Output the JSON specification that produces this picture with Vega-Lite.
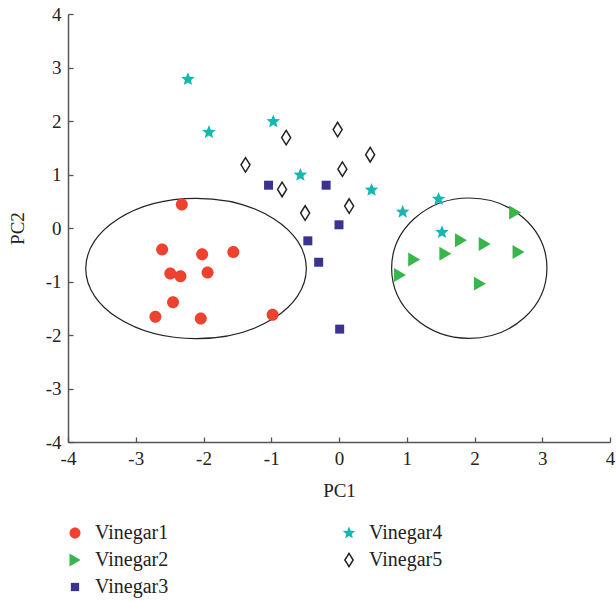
{
  "$schema": "https://vega.github.io/schema/vega-lite/v6.json",
  "autosize": {"type": "none"},
  "width": 542,
  "height": 428,
  "padding": {"left": 68, "top": 14, "right": 6, "bottom": 159},
  "background": "white",
  "config": {
    "view": {"stroke": null},
    "axis": {
      "grid": false,
      "domainColor": "#555555",
      "domainWidth": 1.5,
      "tickColor": "#555555",
      "tickWidth": 1.3,
      "tickSize": -5,
      "labelFont": "Liberation Serif",
      "labelFontSize": 19,
      "labelColor": "#222222",
      "labelFlush": false,
      "labelOverlap": false,
      "labelBound": false,
      "labelExpr": "'' + datum.value",
      "titleFont": "Liberation Serif",
      "titleFontSize": 19,
      "titleFontWeight": "normal",
      "titleColor": "#222222"
    },
    "legend": {
      "labelFont": "Liberation Serif",
      "labelFontSize": 20,
      "labelColor": "#222222"
    }
  },
  "layer": [
    {
      "data": {"values": [{"cx": -2.11, "cy": -0.757}]},
      "mark": {
        "type": "point",
        "shape": "M -1 0 A 1 0.636 0 1 1 1 0 A 1 0.636 0 1 1 -1 0 Z",
        "size": 48664,
        "filled": false,
        "stroke": "#222222",
        "strokeWidth": 1.2,
        "opacity": 1
      },
      "encoding": {
        "x": {"field": "cx", "type": "quantitative"},
        "y": {"field": "cy", "type": "quantitative"}
      }
    },
    {
      "data": {"values": [{"cx": 1.923, "cy": -0.751}]},
      "mark": {
        "type": "point",
        "shape": "M -1 0 A 1 0.904 0 1 1 1 0 A 1 0.904 0 1 1 -1 0 Z",
        "size": 24118,
        "filled": false,
        "stroke": "#222222",
        "strokeWidth": 1.2,
        "opacity": 1
      },
      "encoding": {
        "x": {"field": "cx", "type": "quantitative"},
        "y": {"field": "cy", "type": "quantitative"}
      }
    },
    {
      "data": {
        "values": [
          {"series": "Vinegar1", "PC1": -2.32, "PC2": 0.44},
          {"series": "Vinegar1", "PC1": -2.61, "PC2": -0.40},
          {"series": "Vinegar1", "PC1": -2.02, "PC2": -0.49},
          {"series": "Vinegar1", "PC1": -1.56, "PC2": -0.45},
          {"series": "Vinegar1", "PC1": -2.49, "PC2": -0.85},
          {"series": "Vinegar1", "PC1": -2.34, "PC2": -0.90},
          {"series": "Vinegar1", "PC1": -1.94, "PC2": -0.83},
          {"series": "Vinegar1", "PC1": -2.45, "PC2": -1.39},
          {"series": "Vinegar1", "PC1": -2.71, "PC2": -1.66},
          {"series": "Vinegar1", "PC1": -2.04, "PC2": -1.69},
          {"series": "Vinegar1", "PC1": -0.98, "PC2": -1.62},
          {"series": "Vinegar2", "PC1": 1.80, "PC2": -0.23},
          {"series": "Vinegar2", "PC1": 2.15, "PC2": -0.30},
          {"series": "Vinegar2", "PC1": 2.65, "PC2": -0.45},
          {"series": "Vinegar2", "PC1": 1.57, "PC2": -0.48},
          {"series": "Vinegar2", "PC1": 1.11, "PC2": -0.59},
          {"series": "Vinegar2", "PC1": 0.90, "PC2": -0.88},
          {"series": "Vinegar2", "PC1": 2.08, "PC2": -1.04},
          {"series": "Vinegar2", "PC1": 2.60, "PC2": 0.29},
          {"series": "Vinegar3", "PC1": -1.04, "PC2": 0.80},
          {"series": "Vinegar3", "PC1": -0.19, "PC2": 0.80},
          {"series": "Vinegar3", "PC1": 0.00, "PC2": 0.06},
          {"series": "Vinegar3", "PC1": -0.46, "PC2": -0.24},
          {"series": "Vinegar3", "PC1": -0.30, "PC2": -0.64},
          {"series": "Vinegar3", "PC1": 0.01, "PC2": -1.89},
          {"series": "Vinegar4", "PC1": -2.23, "PC2": 2.78},
          {"series": "Vinegar4", "PC1": -1.92, "PC2": 1.79},
          {"series": "Vinegar4", "PC1": -0.97, "PC2": 1.99},
          {"series": "Vinegar4", "PC1": -0.57, "PC2": 0.99},
          {"series": "Vinegar4", "PC1": 0.48, "PC2": 0.71},
          {"series": "Vinegar4", "PC1": 0.94, "PC2": 0.30},
          {"series": "Vinegar4", "PC1": 1.47, "PC2": 0.54},
          {"series": "Vinegar4", "PC1": 1.52, "PC2": -0.08},
          {"series": "Vinegar5", "PC1": -0.78, "PC2": 1.69},
          {"series": "Vinegar5", "PC1": -1.38, "PC2": 1.18},
          {"series": "Vinegar5", "PC1": -0.84, "PC2": 0.72},
          {"series": "Vinegar5", "PC1": -0.50, "PC2": 0.28},
          {"series": "Vinegar5", "PC1": -0.02, "PC2": 1.84},
          {"series": "Vinegar5", "PC1": 0.46, "PC2": 1.37},
          {"series": "Vinegar5", "PC1": 0.05, "PC2": 1.10},
          {"series": "Vinegar5", "PC1": 0.15, "PC2": 0.41}
        ]
      },
      "mark": {"type": "point", "size": 225, "strokeWidth": 1.5, "opacity": 1},
      "encoding": {
        "x": {
          "field": "PC1", "type": "quantitative", "title": "PC1",
          "scale": {"domain": [-4, 4], "nice": false, "zero": false},
          "axis": {"values": [-4, -3, -2, -1, 0, 1, 2, 3, 4], "labelPadding": 12, "titlePadding": 13}
        },
        "y": {
          "field": "PC2", "type": "quantitative", "title": "PC2",
          "scale": {"domain": [-4, 4], "nice": false, "zero": false},
          "axis": {"values": [-4, -3, -2, -1, 0, 1, 2, 3, 4], "labelPadding": 12, "titlePadding": 18}
        },
        "fill": {
          "field": "series", "type": "nominal",
          "scale": {
            "domain": ["Vinegar1", "Vinegar2", "Vinegar3", "Vinegar4", "Vinegar5"],
            "range": ["#EF4130", "#39B54A", "#3B3391", "#14B8B0", "#FFFFFF"]
          },
          "legend": {
            "title": null, "orient": "none", "legendX": -3, "legendY": 509,
            "columns": 2, "columnPadding": 170, "rowPadding": 7, "padding": 0,
            "symbolSize": 190, "labelOffset": 10, "labelLimit": 300, "symbolStrokeWidth": 1.5
          }
        },
        "stroke": {
          "field": "series", "type": "nominal",
          "scale": {
            "domain": ["Vinegar1", "Vinegar2", "Vinegar3", "Vinegar4", "Vinegar5"],
            "range": ["rgba(0,0,0,0)", "rgba(0,0,0,0)", "rgba(0,0,0,0)", "rgba(0,0,0,0)", "#222222"]
          },
          "legend": {
            "title": null, "orient": "none", "legendX": -3, "legendY": 509,
            "columns": 2, "columnPadding": 170, "rowPadding": 7, "padding": 0,
            "symbolSize": 190, "labelOffset": 10, "labelLimit": 300, "symbolStrokeWidth": 1.5
          }
        },
        "shape": {
          "field": "series", "type": "nominal",
          "scale": {
            "domain": ["Vinegar1", "Vinegar2", "Vinegar3", "Vinegar4", "Vinegar5"],
            "range": [
              "M -0.8 0 A 0.8 0.8 0 1 1 0.8 0 A 0.8 0.8 0 1 1 -0.8 0 Z",
              "M -0.8 -0.93 L 0.8 0 L -0.8 0.93 Z",
              "M -0.6 -0.6 L 0.6 -0.6 L 0.6 0.6 L -0.6 0.6 Z",
              "M0,-0.95L0.247,-0.34L0.904,-0.294L0.399,0.13L0.558,0.769L0,0.42L-0.558,0.769L-0.399,0.13L-0.904,-0.294L-0.247,-0.34Z",
              "M 0 -0.97 L 0.6 0 L 0 0.97 L -0.6 0 Z"
            ]
          },
          "legend": {
            "title": null, "orient": "none", "legendX": -3, "legendY": 509,
            "columns": 2, "columnPadding": 170, "rowPadding": 7, "padding": 0,
            "symbolSize": 190, "labelOffset": 10, "labelLimit": 300, "symbolStrokeWidth": 1.5
          }
        }
      }
    }
  ]
}
